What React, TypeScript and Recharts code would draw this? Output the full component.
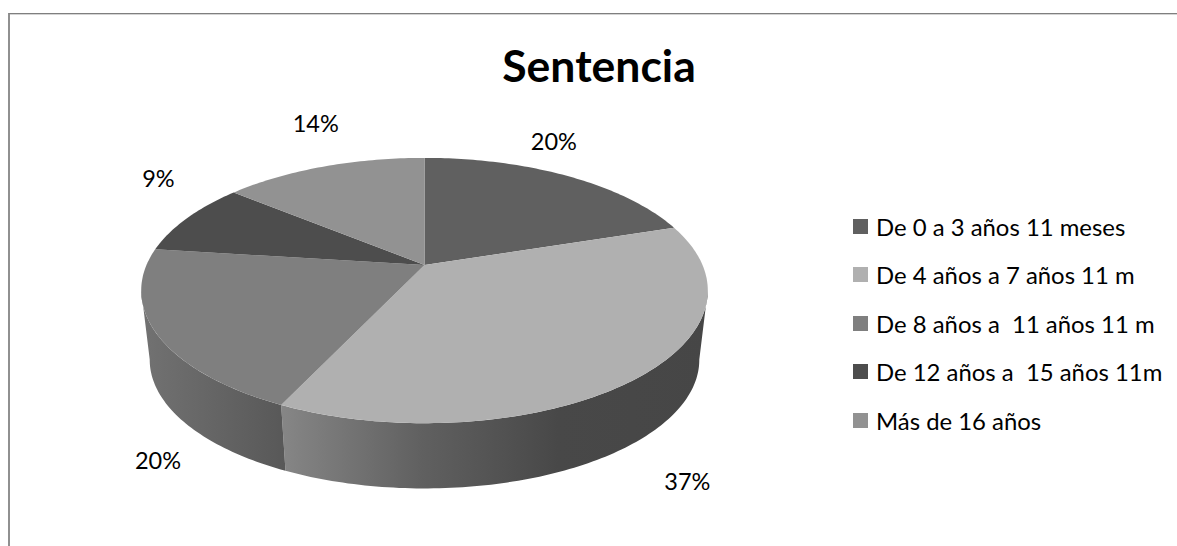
import { PieChart, Pie, Cell, Legend } from "recharts";

const CATEGORIES = [
  "De 0 a 3 años 11 meses",
  "De 4 años a 7 años 11 m",
  "De 8 años a  11 años 11 m",
  "De 12 años a  15 años 11m",
  "Más de 16 años",
];
const VALUES = [20, 37, 20, 9, 14];
const TOP_COLORS = ["#606060", "#b0b0b0", "#7f7f7f", "#4d4d4d", "#929292"];
const WALL_FILLS = ["#505050", "url(#wall1)", "url(#wall2)", "#404040", "#707070"];

const data = CATEGORIES.map((name, i) => ({ name, value: VALUES[i] }));

const FONT = "Lato, 'Open Sans', sans-serif";

// perspective of the tilted disc
const KEYSTONE = -0.1925;
const TILT = 0.4595;
const WALL_DROP = 70;
const WALL_SCALE = 0.97;
// the rim is widest here, the wall's outline leaves it at these angles
const WALL_FROM = -11;
const WALL_TO = -169;

// where each percent label sits, relative to the rim point at its mid angle
const LABEL_NUDGE = [
  [-12, -35],
  [48, 104],
  [2, 127],
  [-29, -40],
  [-8, -44],
];

const project = (cx: number, cy: number, r: number, deg: number, scale = 1, drop = 0) => {
  const a = (deg * Math.PI) / 180;
  const X = Math.cos(a);
  const Y = -Math.sin(a);
  const d = 1 + KEYSTONE * Y;
  return [cx + (X * r * scale) / d, cy + drop + (Y * r * TILT * scale) / d];
};

const arcPoints = (cx: number, cy: number, r: number, from: number, to: number, scale = 1, drop = 0) => {
  const steps = Math.max(2, Math.ceil(Math.abs(to - from)));
  const pts: number[][] = [];
  for (let i = 0; i <= steps; i++) {
    pts.push(project(cx, cy, r, from + ((to - from) * i) / steps, scale, drop));
  }
  return pts;
};

const toPath = (pts: number[][]) =>
  "M" + pts.map((p) => `${p[0].toFixed(2)},${p[1].toFixed(2)}`).join("L") + "Z";

const TopSlice = (props: any) => {
  const { cx, cy, outerRadius, startAngle, endAngle, fill } = props;
  const pts = [[cx, cy], ...arcPoints(cx, cy, outerRadius, startAngle, endAngle)];
  return <path d={toPath(pts)} fill={fill} />;
};

const WallSlice = (props: any) => {
  const { cx, cy, outerRadius, startAngle, endAngle, fill } = props;
  const from = Math.min(startAngle, WALL_FROM);
  const to = Math.max(endAngle, WALL_TO);
  if (from <= to) return <g />;
  const upper = arcPoints(cx, cy, outerRadius, from, to);
  const lower = arcPoints(cx, cy, outerRadius, to, from, WALL_SCALE, WALL_DROP);
  return <path d={toPath([...upper, ...lower])} fill={fill} />;
};

const renderLabel = (props: any) => {
  const { cx, cy, outerRadius, midAngle, index, value } = props;
  const [x, y] = project(cx, cy, outerRadius, midAngle);
  const [dx, dy] = LABEL_NUDGE[index];
  return (
    <text
      x={x + dx}
      y={y + dy}
      textAnchor="middle"
      dominantBaseline="central"
      fontFamily={FONT}
      fontSize={23.5}
      fill="#000"
    >
      {`${value}%`}
    </text>
  );
};

const renderLegend = () => (
  <div style={{ fontFamily: FONT, fontSize: 23.9, color: "#000" }}>
    {CATEGORIES.map((name, i) => (
      <div key={name} style={{ display: "flex", alignItems: "center", height: 48.5, whiteSpace: "pre" }}>
        <span style={{ width: 15, height: 15, background: TOP_COLORS[i], marginRight: 8 }} />
        {name}
      </div>
    ))}
  </div>
);

export default function App() {
  return (
    <div style={{ position: "absolute", left: 0, top: 0, width: 1177, height: 546, overflow: "hidden", background: "#fff" }}>
      <div
        style={{
          position: "absolute",
          left: 8,
          top: 13,
          width: 1169,
          height: 533,
          boxSizing: "border-box",
          borderTop: "1px solid #7f7f7f",
          borderLeft: "2px solid #909090",
          boxShadow: "inset 0 1px 0 #d4d4d4",
        }}
      />
      <div style={{ position: "absolute", left: 0, top: 0 }}>
        <PieChart width={1177} height={546} margin={{ top: 0, right: 0, bottom: 0, left: 0 }}>
          <defs>
            <linearGradient id="wall1" x1="0" y1="0" x2="1" y2="0">
              <stop offset="0" stopColor="#868686" />
              <stop offset="0.33" stopColor="#606060" />
              <stop offset="0.65" stopColor="#484848" />
              <stop offset="1" stopColor="#464646" />
            </linearGradient>
            <linearGradient id="wall2" x1="0" y1="0" x2="1" y2="0">
              <stop offset="0" stopColor="#727272" />
              <stop offset="1" stopColor="#585858" />
            </linearGradient>
          </defs>
          <text x={599} y={64} textAnchor="middle" dominantBaseline="central" fontFamily={FONT} fontWeight={700} fontSize={44.5} fill="#000">
            Sentencia
          </text>
          <Pie
            data={data}
            dataKey="value"
            nameKey="name"
            cx={424.5}
            cy={265}
            outerRadius={278}
            startAngle={90}
            endAngle={-270}
            shape={WallSlice}
            legendType="none"
            label={false}
            labelLine={false}
            isAnimationActive={false}
          >
            {data.map((_, index) => (
              <Cell key={index} fill={WALL_FILLS[index]} />
            ))}
          </Pie>
          <Pie
            data={data}
            dataKey="value"
            nameKey="name"
            cx={424.5}
            cy={265}
            outerRadius={278}
            startAngle={90}
            endAngle={-270}
            shape={TopSlice}
            label={renderLabel}
            labelLine={false}
            isAnimationActive={false}
          >
            {data.map((_, index) => (
              <Cell key={index} fill={TOP_COLORS[index]} />
            ))}
          </Pie>
          <Legend
            layout="vertical"
            content={renderLegend}
            wrapperStyle={{ position: "absolute", left: 853, top: 202, width: 320, height: 250 }}
          />
        </PieChart>
      </div>
    </div>
  );
}
